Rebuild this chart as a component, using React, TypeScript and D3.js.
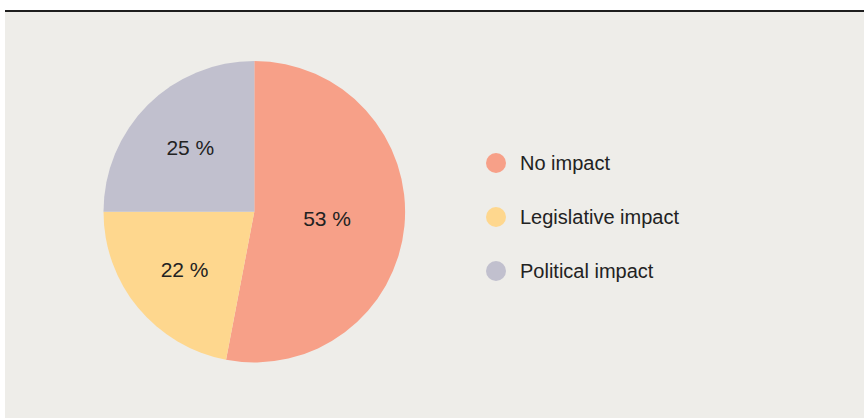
import React, { useEffect, useRef } from 'react';
import * as d3 from 'd3';

const categories = ['No impact', 'Legislative impact', 'Political impact'];
const shares = [53, 22, 25];
const colors = ['#f7a088', '#fed78e', '#c1c0ce'];

const App: React.FC = () => {
    const ref = useRef<SVGSVGElement | null>(null);

    useEffect(() => {
        if (!ref.current) return;
        const svg = d3.select(ref.current);
        svg.selectAll('*').remove();

        const width = 864;
        const height = 418;
        const cx = 254.3;
        const cy = 211.7;
        const radius = 150.8;

        // panel background + rule on top
        svg.append('rect')
            .attr('x', 5).attr('y', 11)
            .attr('width', width - 5).attr('height', height - 11)
            .attr('fill', '#eeede9');
        svg.append('line')
            .attr('x1', 5).attr('x2', width)
            .attr('y1', 11).attr('y2', 11)
            .attr('stroke', '#1e1e1e').attr('stroke-width', 2);

        const data = categories.map((c, i) => ({ name: c, value: shares[i], color: colors[i] }));
        const pie = d3.pie<typeof data[0]>().value(d => d.value).sort(null);
        const arcs = pie(data);
        const arc = d3.arc<d3.PieArcDatum<typeof data[0]>>().innerRadius(0).outerRadius(radius);

        const g = svg.append('g').attr('transform', `translate(${cx},${cy})`);
        g.selectAll('path')
            .data(arcs)
            .enter().append('path')
            .attr('d', arc)
            .attr('fill', d => d.data.color);

        const labelArc = (d: d3.PieArcDatum<typeof data[0]>) => {
            const r = d.data.value > 50 ? radius * 0.97 : radius * 1.2;
            return d3.arc<d3.PieArcDatum<typeof data[0]>>().innerRadius(0).outerRadius(r).centroid(d);
        };

        g.selectAll('text.pct')
            .data(arcs)
            .enter().append('text')
            .attr('class', 'pct')
            .attr('transform', d => `translate(${labelArc(d)})`)
            .attr('text-anchor', 'middle')
            .attr('dy', '0.35em')
            .attr('font-family', '"Liberation Sans", Arial, sans-serif')
            .attr('font-size', 21)
            .attr('fill', '#222')
            .text(d => `${d.data.value} %`);

        const legendY = d3.scalePoint<string>()
            .domain(categories)
            .range([163, 271]);

        const legend = svg.append('g');
        legend.selectAll('circle')
            .data(data)
            .enter().append('circle')
            .attr('cx', 496)
            .attr('cy', d => legendY(d.name) as number)
            .attr('r', 10)
            .attr('fill', d => d.color);
        legend.selectAll('text')
            .data(data)
            .enter().append('text')
            .attr('x', 520)
            .attr('y', d => (legendY(d.name) as number) + 7)
            .attr('font-family', '"Liberation Sans", Arial, sans-serif')
            .attr('font-size', 20)
            .attr('fill', '#222')
            .text(d => d.name);
    }, []);

    return (
        <svg ref={ref} width={864} height={418}
             style={{ position: 'absolute', left: 0, top: 0, display: 'block', background: '#fff' }} />
    );
};

export default App;
